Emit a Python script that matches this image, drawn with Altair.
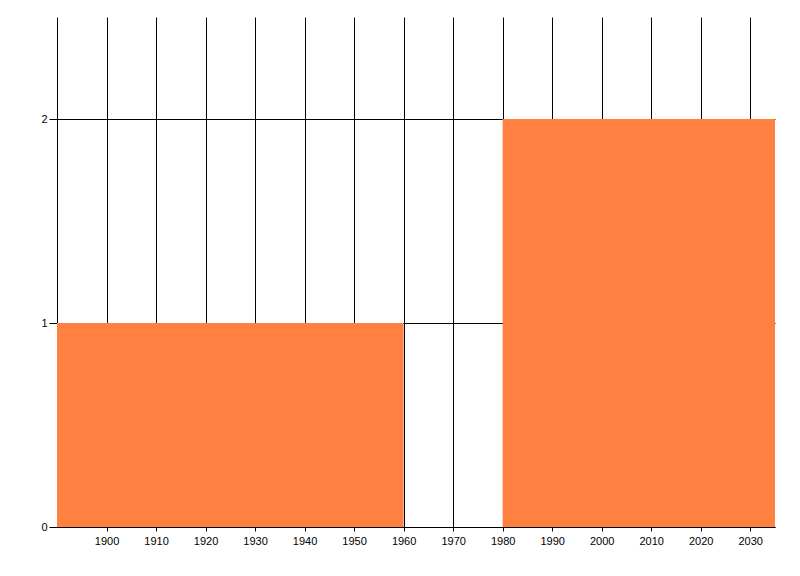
import altair as alt
import pandas as pd

starts = [1890, 1980]
ends = [1960, 2035]
values = [1, 2]
x_ticks = [1900, 1910, 1920, 1930, 1940, 1950, 1960, 1970, 1980, 1990, 2000, 2010, 2020, 2030]
y_ticks = [0, 1, 2]

df = pd.DataFrame({"start": starts, "end": ends, "value": values, "base": [0, 0]})

chart = alt.Chart(df).mark_rect(color="#FF8040", opacity=1).encode(
    x=alt.X("start:Q",
            scale=alt.Scale(domain=[1890, 2035], nice=False, zero=False),
            axis=alt.Axis(values=x_ticks, title=None, grid=True, gridColor="black",
                          gridOpacity=1, gridWidth=1, domainColor="black", tickColor="black",
                          tickSize=4, labelPadding=4, labelColor="black", labelFont="Liberation Sans",
                          labelFontSize=11, format="d", labelFlush=False)),
    x2="end:Q",
    y=alt.Y("base:Q",
            scale=alt.Scale(domain=[0, 2.5], nice=False),
            axis=alt.Axis(values=y_ticks, title=None, grid=True, gridColor="black",
                          gridOpacity=1, gridWidth=1, domainColor="black", tickColor="black",
                          tickSize=8, labelPadding=2, labelColor="black", labelFont="Liberation Sans",
                          labelFontSize=11, format="d")),
    y2="value:Q",
).properties(
    width=718, height=510,
    autosize=alt.AutoSizeParams(type="none"),
    padding={"left": 49, "top": 9, "right": 17, "bottom": 41},
).configure_view(stroke=None)

chart.save("out.html", embed_options={"renderer": "svg", "actions": False})
